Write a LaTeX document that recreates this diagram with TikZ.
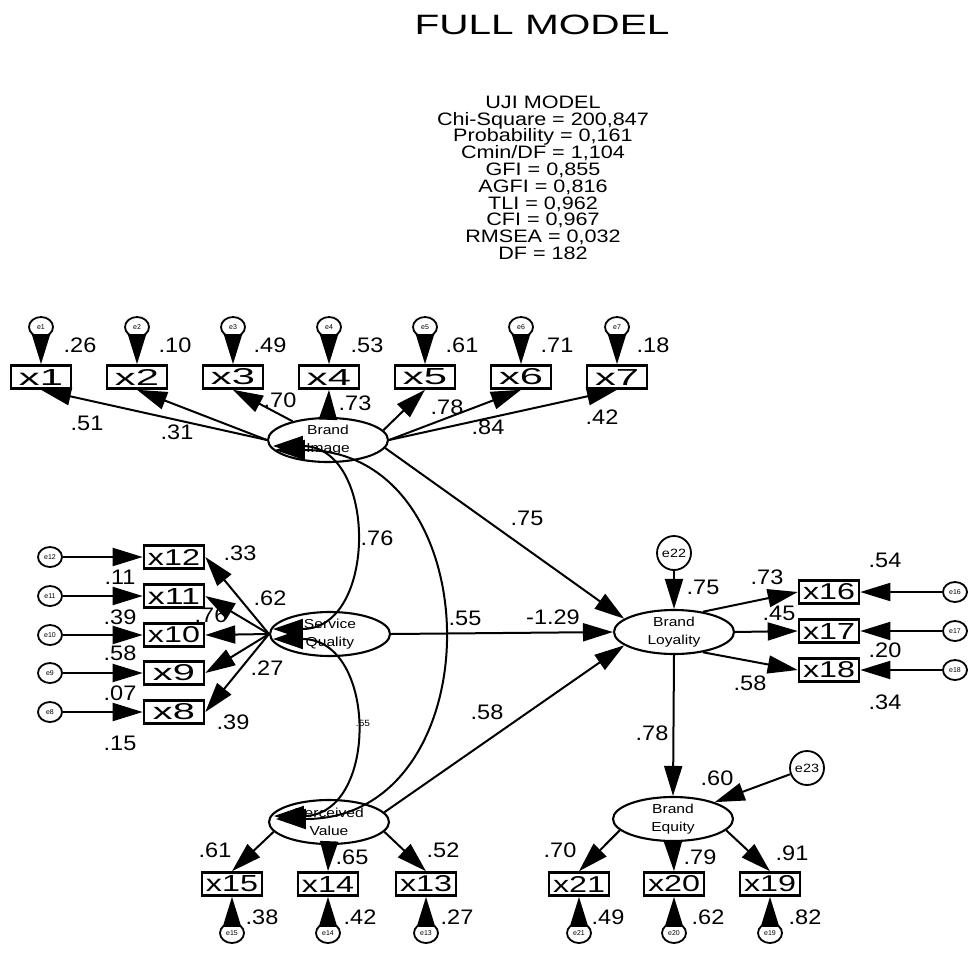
\documentclass[tikz,border=0pt]{standalone}
\usepackage{fontspec}
\usepackage{graphicx}
\setmainfont{Liberation Sans}
\newfontfamily\titlefont[FakeStretch=1.45]{Liberation Sans}
\newfontfamily\statfont[FakeStretch=1.2]{Liberation Sans}
\newfontfamily\numfont[FakeStretch=1.12]{Liberation Sans}
\newfontfamily\latfont[FakeStretch=1.2]{Liberation Sans}
\usetikzlibrary{arrows.meta,shapes.geometric,calc}
\newcommand{\bt}[2]{\resizebox{#1}{16pt}{#2}}
\begin{document}
\begin{tikzpicture}[x=1pt,y=-1pt,
 lat/.style={ellipse,draw,line width=2.1pt,minimum width=120pt,minimum height=44pt,inner sep=0pt,fill=white,align=center,font=\latfont\fontsize{13}{18}\selectfont},
 obs/.style={rectangle,draw,line width=2.6pt,minimum width=60pt,minimum height=23pt,inner sep=0pt,fill=white},
 err/.style={ellipse,draw,line width=1.8pt,minimum width=24pt,minimum height=20pt,inner sep=0pt,fill=white,font=\fontsize{7}{7}\selectfont},
 errbig/.style={circle,draw,line width=1.8pt,minimum size=34pt,inner sep=0pt,fill=white,font=\latfont\fontsize{12}{12}\selectfont},
 reg/.style={line width=2pt,-{Triangle[length=30pt,width=18pt]}},
 cov/.style={line width=2pt,{Triangle[length=30pt,width=20pt]}-{Triangle[length=30pt,width=20pt]}},
 lbl/.style={inner sep=0pt,font=\numfont\fontsize{21}{21}\selectfont},
]
\useasboundingbox (0,0) rectangle (969,956);

% title and fit statistics
\node[inner sep=0pt,font=\titlefont\fontsize{28}{30}\selectfont] (title) at (542,25) {FULL MODEL};
\node[inner sep=0pt,anchor=north,align=center,font=\statfont\fontsize{18}{16.8}\selectfont] (stats) at (543,95.5)
 {UJI MODEL\\Chi-Square = 200,847\\Probability = 0,161\\Cmin/DF = 1,104\\GFI = 0,855\\AGFI = 0,816\\TLI = 0,962\\CFI = 0,967\\RMSEA = 0,032\\DF = 182};

% latent variables
\node[lat] (BI) at (328,440) {Brand\\Image};
\node[lat] (SQ) at (330,634) {Service\\Quality};
\node[lat] (PV) at (329,822) {Perceived\\Value};
\node[lat] (BL) at (674,632) {Brand\\Loyality};
\node[lat] (BE) at (673,819) {Brand\\Equity};

% observed + errors
\foreach \i/\x in {1/41,2/137,3/233,4/329,5/425,6/521,7/617}{
  \node[obs] (x\i) at (\x,377) {\bt{44pt}{x\i}};
  \node[err] (e\i) at (\x,327) {e\i};
}
\foreach \i/\y/\w in {12/557/52pt,11/596/52pt,10/635/52pt,9/673/42pt,8/712/42pt}{
  \node[obs] (x\i) at (174,\y) {\bt{\w}{x\i}};
  \node[err] (e\i) at (50,\y) {e\i};
}
\foreach \i/\y in {16/592,17/631,18/670}{
  \node[obs] (x\i) at (829,\y) {\bt{52pt}{x\i}};
  \node[err] (e\i) at (955,\y) {e\i};
}
\foreach \i/\x in {15/232,14/328,13/426,21/579,20/674,19/770}{
  \node[obs] (x\i) at (\x,884) {\bt{52pt}{x\i}};
  \node[err] (e\i) at (\x,933) {e\i};
}
\node[errbig] (e22) at (674,553) {e22};
\node[errbig] (e23) at (807,768) {e23};

% error arrows
\foreach \i in {1,...,7}{ \draw[reg] (e\i) -- (x\i.north); }
\foreach \i in {8,...,12}{ \draw[reg] (e\i) -- (x\i.west); \draw[reg] (SQ.west) -- (x\i.east); }
\foreach \i in {16,17,18}{ \draw[reg] (e\i) -- (x\i.east); }
\foreach \i in {13,14,15,19,20,21}{ \draw[reg] (e\i) -- (x\i.south); }
\draw[reg] (e22) -- (BL.north);
\draw[reg] (e23) -- (BE.22);

% loadings
\draw[reg] (BI.west) -- (x1.south);
\draw[reg] (BI.west) -- (x2.south);
\draw[reg] (BI) -- (x3.south);
\draw[reg] (BI.north) -- (x4.south);
\draw[reg] (BI.10) -- (x5.south);
\draw[reg] (BI.east) -- (x6.south);
\draw[reg] (BI.east) -- (x7.south);
\draw[reg] (BL.35) -- (x16.west);
\draw[reg] (BL.east) -- (x17.west);
\draw[reg] (BL.-35) -- (x18.west);
\draw[reg] (PV.190) -- (x15.north);
\draw[reg] (PV.south) -- (x14.north);
\draw[reg] (PV.-10) -- (x13.north);
\draw[reg] (BE.192) -- (x21.north);
\draw[reg] (BE.south) -- (x20.north);
\draw[reg] (BE.-12) -- (x19.north);

% structural paths
\draw[reg] (BI.-8) -- (BL.165);
\draw[reg] (SQ.east) -- (BL.west);
\draw[reg] (PV.10) -- (BL.195);
\draw[reg] (BL.south) -- (BE.north);

% covariances
\draw[cov] ($(BI.west)+(6,6)$) .. controls +(105,0) and +(105,0) .. ($(SQ.west)+(4,-5)$);
\draw[cov] ($(SQ.west)+(4,5)$) .. controls +(105,0) and +(105,0) .. ($(PV.west)+(6,-6)$);
\draw[cov] ($(BI.west)+(8,10)$) .. controls +(219,0) and +(219,0) .. ($(PV.west)+(8,-3)$);

% labels
\foreach \n/\x/\y/\t in {
 a1/80/345/.26, a2/175/345/.10, a3/270/345/.49, a4/367/345/.53, a5/462/345/.61, a6/557/345/.71, a7/653/345/.18,
 b1/87/423/.51, b2/177/432/.31, b3/280/400/.70, b4/355/403/.73, b5/447/407/.78, b6/488/427/.84, b7/602/417/.42,
 c1/240/553/.33, c2/120/577/.11, c3/270/598/.62, c4/120/617/.39, c5/211/615/.76, c6/120/653/.58, c7/267/668/.27,
 c8/120/693/.07, c9/233/722/.39, c10/120/743/.15,
 d1/527/518/.75, d2/377/538/.76, d3/465/618/.55, d4/553/617/-1.29, d5/487/712/.58,
 f1/885/560/.54, f2/767/577/.73, f3/779/613/.45, f4/885/650/.20, f5/750/683/.58, f6/885/702/.34, f7/703/587/.75,
 g1/652/733/.78, g2/717/778/.60, g3/560/850/.70, g4/700/857/.79, g5/792/853/.91, g6/608/917/.49, g7/708/917/.62, g8/805/917/.82,
 h1/215/850/.61, h2/352/857/.65, h3/443/850/.52, h4/262/917/.38, h5/360/917/.42, h6/457/917/.27}{
  \node[lbl] (L\n) at (\x,\y) {\t};
}
\node[inner sep=0pt,font=\numfont\fontsize{9}{9}\selectfont] (Lsmall) at (363,723) {.55};
\end{tikzpicture}
\end{document}
